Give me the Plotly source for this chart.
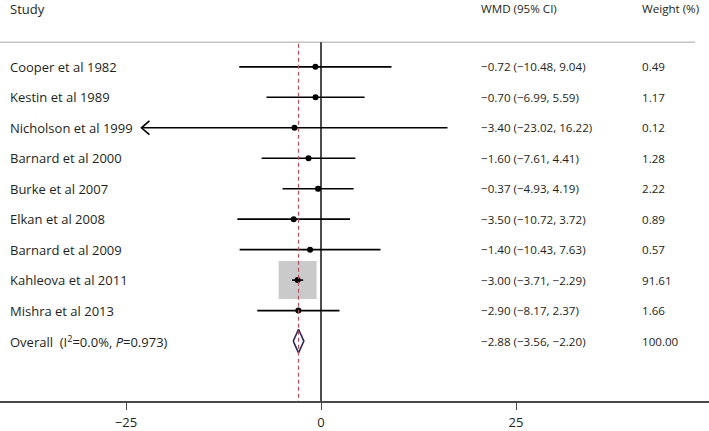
import plotly.graph_objects as go

# ---- data ----
studies = ["Cooper et al 1982", "Kestin et al 1989", "Nicholson et al 1999",
           "Barnard et al 2000", "Burke et al 2007", "Elkan et al 2008",
           "Barnard et al 2009", "Kahleova et al 2011", "Mishra et al 2013"]
wmd = [-0.72, -0.70, -3.40, -1.60, -0.37, -3.50, -1.40, -3.00, -2.90]
ci_low = [-10.48, -6.99, -23.02, -7.61, -4.93, -10.72, -10.43, -3.71, -8.17]
ci_high = [9.04, 5.59, 16.22, 4.41, 4.19, 3.72, 7.63, -2.29, 2.37]
weights = [0.49, 1.17, 0.12, 1.28, 2.22, 0.89, 0.57, 91.61, 1.66]
overall_label = "Overall  (I<sup>2</sup>=0.0%, <i>P</i>=0.973)"
overall_est, overall_low, overall_high, overall_weight = -2.88, -3.56, -2.20, 100.00
arrow_left = [False, False, True, False, False, False, False, False, False]
tick_vals = [-25, 0, 25]
headers = ["Study", "WMD (95% CI)", "Weight (%)"]

# ---- layout constants ----
W, H = 709, 431
PX_PER_UNIT = 7.8
ZERO_PX = 321
ROW0_PX, ROW_STEP = 68, 31
AXIS_PX = 408
XR = [-ZERO_PX / PX_PER_UNIT, (W - ZERO_PX) / PX_PER_UNIT]
YR = [-(AXIS_PX - ROW0_PX) / ROW_STEP, ROW0_PX / ROW_STEP]
FONT = "Open Sans"
TXT = "#231f20"
FS_NAME = 13
FS_NUM = 11.6
COL_X = [8, 479, 640]

def ypos(px):
    return -(px - ROW0_PX) / ROW_STEP

n = len(studies)
rows = [-i for i in range(n)]
row_overall = -n

fig = go.Figure()

# weight boxes (area proportional to weight)
box_sizes = [38 * (w / max(weights)) ** 0.5 for w in weights]
fig.add_trace(go.Scatter(x=wmd, y=rows, mode="markers",
                         marker=dict(symbol="square", size=box_sizes, color="#b3b3b3",
                                     line=dict(width=0)),
                         hoverinfo="skip", showlegend=False))

# CI lines
cx, cy = [], []
for lo, hi, r in zip(ci_low, ci_high, rows):
    cx += [lo, hi, None]
    cy += [r, r, None]
fig.add_trace(go.Scatter(x=cx, y=cy, mode="lines", line=dict(color="black", width=1.6),
                         hoverinfo="skip", showlegend=False))

# arrows for truncated CIs
ax, ay = [], []
dxu = 8 / PX_PER_UNIT
dyu = 7 / ROW_STEP
for lo, r, a in zip(ci_low, rows, arrow_left):
    if a:
        ax += [lo + dxu, lo, lo + dxu, None]
        ay += [r + dyu, r, r - dyu, None]
fig.add_trace(go.Scatter(x=ax, y=ay, mode="lines", line=dict(color="black", width=1.6),
                         hoverinfo="skip", showlegend=False))

# point estimates
fig.add_trace(go.Scatter(x=wmd, y=rows, mode="markers",
                         marker=dict(symbol="circle", size=6, color="black"),
                         hoverinfo="skip", showlegend=False))

# overall diamond
dh = 12 / ROW_STEP
fig.add_trace(go.Scatter(x=[overall_low, overall_est, overall_high, overall_est, overall_low],
                         y=[row_overall, row_overall + dh, row_overall, row_overall - dh, row_overall],
                         mode="lines", fill="toself", fillcolor="rgba(255,255,255,0)",
                         line=dict(color="#2e2a5c", width=1.6),
                         hoverinfo="skip", showlegend=False))

shapes = []
header_line_y = ypos(43)
# header separator
shapes.append(dict(type="line", xref="paper", yref="y", x0=0, x1=695 / W,
                   y0=header_line_y, y1=header_line_y,
                   line=dict(color="#c4c4c4", width=1.5)))
# null line
shapes.append(dict(type="line", xref="x", yref="y", x0=0, x1=0,
                   y0=header_line_y, y1=YR[0], line=dict(color="black", width=1.4)))
# overall dashed line
shapes.append(dict(type="line", xref="x", yref="y", x0=overall_est, x1=overall_est,
                   y0=header_line_y - 0.05, y1=YR[0],
                   line=dict(color="#b4505a", width=1.2, dash="4px,3px")))

annotations = []
hdr_y = ypos(9)
for k, (txt, px) in enumerate(zip(headers, COL_X)):
    annotations.append(dict(text=txt, xref="paper", yref="y", x=px / W, y=hdr_y,
                            xanchor="left", yanchor="middle", showarrow=False,
                            font=dict(family=FONT, size=FS_NAME if k == 0 else FS_NUM, color=TXT)))

labels = studies + [overall_label]
est_all = wmd + [overall_est]
lo_all = ci_low + [overall_low]
hi_all = ci_high + [overall_high]
w_all = weights + [overall_weight]
row_all = rows + [row_overall]

def fmt(v):
    s = f"{v:.2f}"
    return s.replace("-", "\u2212")

for lab, e, lo, hi, w, r in zip(labels, est_all, lo_all, hi_all, w_all, row_all):
    annotations.append(dict(text=lab, xref="paper", yref="y", x=COL_X[0] / W, y=r,
                            xanchor="left", yanchor="middle", showarrow=False,
                            font=dict(family=FONT, size=FS_NAME, color=TXT)))
    annotations.append(dict(text=f"{fmt(e)} ({fmt(lo)}, {fmt(hi)})", xref="paper", yref="y",
                            x=COL_X[1] / W, y=r, xanchor="left", yanchor="middle", showarrow=False,
                            font=dict(family=FONT, size=FS_NUM, color=TXT)))
    annotations.append(dict(text=f"{w:.2f}", xref="paper", yref="y", x=COL_X[2] / W, y=r,
                            xanchor="left", yanchor="middle", showarrow=False,
                            font=dict(family=FONT, size=FS_NUM, color=TXT)))

fig.update_layout(
    width=W, height=H,
    margin=dict(l=0, r=0, t=0, b=H - AXIS_PX, pad=0),
    paper_bgcolor="white", plot_bgcolor="white",
    shapes=shapes, annotations=annotations,
    xaxis=dict(range=XR, tickvals=tick_vals, ticktext=[fmt(v).replace(".00", "") for v in tick_vals],
               showgrid=False, zeroline=False, showline=True, linecolor="#4a4a4a", linewidth=1.5,
               ticks="outside", ticklen=7, tickwidth=1.2, tickcolor="#4a4a4a",
               ticklabelstandoff=2,
               tickfont=dict(family=FONT, size=FS_NAME, color=TXT), fixedrange=True),
    yaxis=dict(range=YR, showgrid=False, zeroline=False, showline=False,
               showticklabels=False, ticks="", fixedrange=True),
    showlegend=False,
)

fig.write_html("out.html", config={"displayModeBar": False},
               post_script="document.body.style.margin='0';document.body.style.overflow='hidden';")
